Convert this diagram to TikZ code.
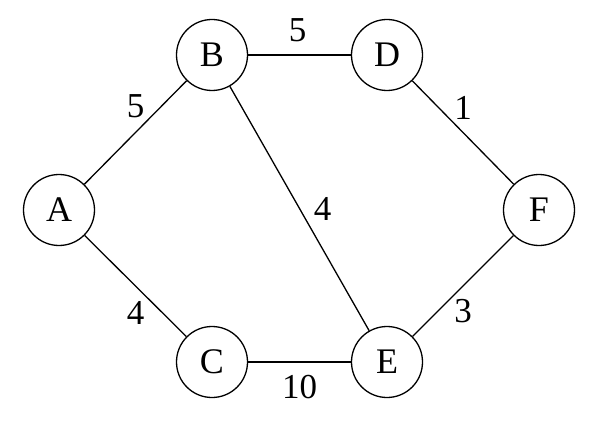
\documentclass[tikz,border=0pt]{standalone}
\usepackage{fontspec}
\setmainfont{Liberation Serif}
\begin{document}
\begin{tikzpicture}[x=1pt,y=-1pt,
  vert/.style={circle,draw,line width=1.3pt,minimum size=71pt,inner sep=0pt,font=\fontsize{36}{36}\selectfont},
  edge/.style={line width=1.3pt},
  wlab/.style={midway,font=\fontsize{35}{35}\selectfont,inner sep=0pt}]
\useasboundingbox (0,0) rectangle (596,422);
\node[vert] (A) at (59,210) {A};
\node[vert] (B) at (212,55) {B};
\node[vert] (D) at (387,55) {D};
\node[vert] (F) at (539,210) {F};
\node[vert] (C) at (212,362) {C};
\node[vert] (E) at (387,362) {E};
\draw[edge] (A) -- node[wlab,yshift=26pt]{5} (B);
\draw[edge] (B) -- node[wlab,yshift=25pt,xshift=-2pt]{5} (D);
\draw[edge] (D) -- node[wlab,yshift=25pt]{1} (F);
\draw[edge] (B) -- node[wlab,xshift=23pt]{4} (E);
\draw[edge] (A) -- node[wlab,yshift=-27pt]{4} (C);
\draw[edge] (F) -- node[wlab,yshift=-25pt]{3} (E);
\draw[edge] (C) -- node[wlab,yshift=-25pt]{10} (E);
\end{tikzpicture}
\end{document}
